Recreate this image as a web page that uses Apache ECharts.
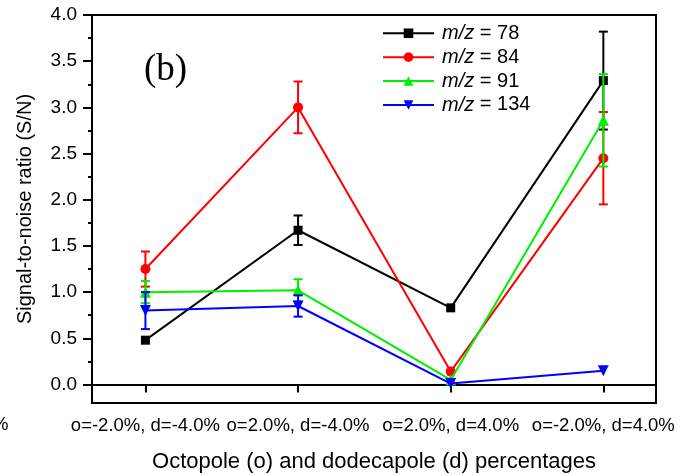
<!DOCTYPE html>
<html>
<head>
<meta charset="utf-8">
<script src="https://cdn.jsdelivr.net/npm/echarts@6/dist/echarts.min.js"></script>
<style>
  html, body { margin: 0; padding: 0; background: #fff; }
  #chart { width: 690px; height: 475px; }
</style>
</head>
<body>
<div id="chart"></div>
<script>
// Electrode configurations on the x axis (positions 1..4)
const categories = ['o=-2.0%, d=-4.0%', 'o=2.0%, d=-4.0%', 'o=2.0%, d=4.0%', 'o=-2.0%, d=4.0%'];
const positions = [1, 2, 3, 4];

// Signal-to-noise ratio per ion
const seriesNames = ['m/z = 78', 'm/z = 84', 'm/z = 91', 'm/z = 134'];
const snr78 = [0.48, 1.67, 0.83, 3.29];
const snr84 = [1.25, 3.00, 0.14, 2.45];
const snr91 = [1.00, 1.02, 0.05, 2.86];
const snr134 = [0.80, 0.85, 0.01, 0.15];

// Error bar half-heights (0 = no visible bar)
const err78 = [0, 0.16, 0, 0.53];
const err84 = [0.19, 0.28, 0, 0.50];
const err91 = [0.12, 0.12, 0, 0.50];
const err134 = [0.20, 0.115, 0, 0];

// Y axis tick values
const yMajorTicks = [0, 0.5, 1.0, 1.5, 2.0, 2.5, 3.0, 3.5, 4.0];
const yMinorTicks = [0.25, 0.75, 1.25, 1.75, 2.25, 2.75, 3.25, 3.75];

const colors = ['#000000', '#ff0000', '#00ee00', '#0000ff'];
const symbols = ['rect', 'circle', 'triangle', 'path://M0,0 L10,0 L5,9 Z'];
const symbolSizes = [9, 10, 11, 11];
const values = [snr78, snr84, snr91, snr134];
const errors = [err78, err84, err91, err134];

const FONT = '"Liberation Sans", Arial, sans-serif';

function pairs(vals) {
  return positions.map((x, i) => [x, vals[i]]);
}

function errorSeries(vals, errs, color, z) {
  const data = positions.map((x, i) => [x, vals[i] - errs[i], vals[i] + errs[i]])
    .filter((d, i) => errs[i] > 0);
  return {
    type: 'custom',
    z: z,
    silent: true,
    data: data,
    encode: { x: 0, y: [1, 2] },
    renderItem: function (params, api) {
      const x = api.value(0);
      const lo = api.coord([x, api.value(1)]);
      const hi = api.coord([x, api.value(2)]);
      const cap = 4.5;
      const style = { stroke: color, lineWidth: 2 };
      return {
        type: 'group',
        children: [
          { type: 'line', shape: { x1: lo[0], y1: lo[1], x2: hi[0], y2: hi[1] }, style: style },
          { type: 'line', shape: { x1: hi[0] - cap, y1: hi[1], x2: hi[0] + cap, y2: hi[1] }, style: style },
          { type: 'line', shape: { x1: lo[0] - cap, y1: lo[1], x2: lo[0] + cap, y2: lo[1] }, style: style }
        ]
      };
    }
  };
}

const series = [];
values.forEach((vals, k) => {
  series.push({
    name: seriesNames[k],
    type: 'line',
    z: 2 + k * 2,
    data: pairs(vals),
    symbol: symbols[k],
    symbolSize: symbolSizes[k],
    itemStyle: { color: colors[k] },
    lineStyle: { color: colors[k], width: 2 },
    animation: false
  });
  series.push(errorSeries(vals, errors[k], colors[k], 3 + k * 2));
});

// Second left axis carrying only the short minor ticks
series.push({ type: 'line', yAxisIndex: 1, data: [], silent: true });

const chart = echarts.init(document.getElementById('chart'), null, { renderer: 'canvas' });
chart.setOption({
  animation: false,
  backgroundColor: '#ffffff',
  textStyle: { fontFamily: FONT },
  grid: {
    left: 92, right: 34, top: 15, bottom: 72,
    outerBoundsMode: 'none', containLabel: false,
    show: true, borderColor: '#000', borderWidth: 2, backgroundColor: 'transparent'
  },
  legend: {
    left: 382, top: 22, orient: 'vertical', padding: 0,
    itemWidth: 51, itemHeight: 12, itemGap: 1.4,
    data: seriesNames,
    formatter: function (name) {
      return '{i|m/z}{t|' + name.slice(3) + '}';
    },
    textStyle: {
      fontFamily: FONT, fontSize: 20, color: '#000', lineHeight: 22.5,
      rich: {
        i: { fontStyle: 'italic', fontFamily: FONT, fontSize: 20, color: '#000', lineHeight: 22.5, padding: [0, 0, 0, 3] },
        t: { fontFamily: FONT, fontSize: 20, color: '#000', lineHeight: 22.5 }
      }
    }
  },
  xAxis: {
    type: 'value', min: 0.65, max: 4.345,
    name: 'Octopole (o) and dodecapole (d) percentages',
    nameLocation: 'middle', nameGap: 48,
    nameTextStyle: { fontFamily: FONT, fontSize: 22, color: '#000' },
    axisLine: { show: true, lineStyle: { color: '#000', width: 2 } },
    axisTick: { show: true, length: 8, lineStyle: { color: '#000', width: 2 }, customValues: positions },
    axisLabel: {
      customValues: positions, margin: 13,
      fontFamily: FONT, fontSize: 18.5, color: '#000',
      formatter: function (v) { return categories[Math.round(v) - 1] || ''; }
    },
    splitLine: { show: false }
  },
  yAxis: [{
    type: 'value', min: -0.2, max: 4.0,
    name: 'Signal-to-noise ratio (S/N)',
    nameLocation: 'middle', nameGap: 57,
    nameTextStyle: { fontFamily: FONT, fontSize: 20, color: '#000' },
    axisLine: { show: true, lineStyle: { color: '#000', width: 2 } },
    axisTick: { show: true, length: 9, lineStyle: { color: '#000', width: 2 }, customValues: yMajorTicks },
    axisLabel: {
      customValues: yMajorTicks, margin: 15,
      fontFamily: FONT, fontSize: 19, color: '#000',
      formatter: function (v) { return v.toFixed(1); }
    },
    splitLine: { show: false }
  }, {
    type: 'value', min: -0.2, max: 4.0, position: 'left', offset: 0,
    axisLine: { show: false },
    axisTick: { show: true, length: 4, lineStyle: { color: '#000', width: 2 }, customValues: yMinorTicks },
    axisLabel: { show: false },
    splitLine: { show: false }
  }],
  graphic: [{
    type: 'text', left: 144, top: 52,
    style: { text: '(b)', fontFamily: '"Liberation Serif", "Times New Roman", serif', fontSize: 37, fill: '#000' }
  }, {
    type: 'text', left: -8, top: 415,
    style: { text: '%', fontFamily: FONT, fontSize: 18.5, fill: '#000' }
  }],
  series: series
});
</script>
</body>
</html>
